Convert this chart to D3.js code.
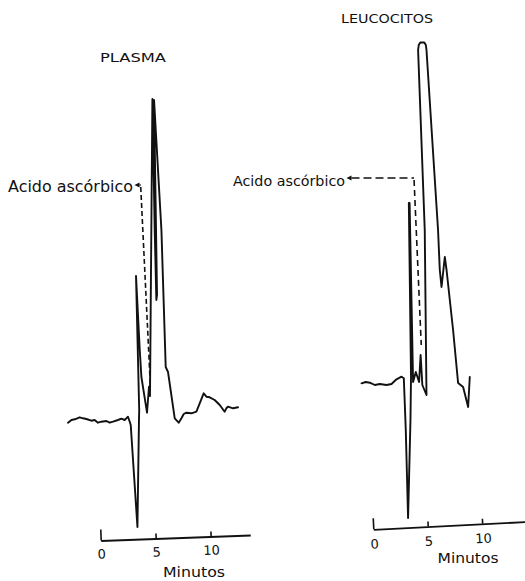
<!DOCTYPE html>
<html>
<head>
<meta charset="utf-8">
<script src="https://cdn.jsdelivr.net/npm/d3@7"></script>
<style>
  body { margin: 0; background: #fff; }
  text { font-family: "DejaVu Sans", sans-serif; fill: #111; }
</style>
</head>
<body>
<div class="chart-container"></div>
<script>
// chromatogram traces, time in minutes, detector signal in arbitrary units
var plasmaTime = [-2.97, -2.66, -2.36, -1.91, -1.61, -1.30, -0.85, -0.55, -0.25, 0.06,
  0.52, 0.82, 1.12, 1.57, 1.88, 2.18, 2.48, 2.64, 2.73, 3.34,
  3.48, 3.50, 3.21, 3.55, 3.70, 4.21, 4.39, 4.48, 4.70, 4.91,
  5.06, 5.12, 4.85, 5.52, 5.91, 6.12, 6.73, 7.09, 7.34, 7.55,
  7.79, 8.25, 8.70, 9.00, 9.36, 9.61, 9.91, 10.36, 10.82, 11.27,
  11.42, 11.57, 12.03, 12.48];
var plasmaSignal = [-0.17, 0.10, 0.17, 0.37, 0.27, 0.20, 0.03, 0.10, -0.17, -0.07,
  0.00, -0.17, -0.07, 0.10, 0.23, 0.10, 0.43, -0.07, -0.40, -10.6,
  0.10, 1.10, 14.5, 7.1, 4.4, 0.83, 3.43, 2.5, 32.2, 19.1,
  12.1, 12.6, 32.1, 19.1, 5.4, 4.9, 0.27, -0.17, 0.27, 0.70,
  0.83, 0.77, 0.93, 1.77, 2.77, 2.43, 2.37, 2.10, 1.60, 0.93,
  1.27, 1.43, 1.27, 1.37];

var leucoTime = [-1.08, -0.70, -0.32, 0.14, 0.60, 1.21, 1.67, 2.13, 2.59, 2.80,
  2.98, 3.19, 3.41, 3.46, 3.26, 3.33, 3.65, 3.90, 4.20, 4.34,
  4.50, 4.88, 4.72, 4.11, 4.17, 4.31, 4.68, 4.82, 4.88, 5.94,
  6.10, 6.26, 6.56, 6.72, 7.32, 7.78, 8.24, 8.70, 8.85];
var leucoSignal = [-0.03, 0.10, 0.03, -0.20, -0.10, -0.20, -0.10, 0.37, 0.63, 0.47,
  -4.7, -13.5, -3.7, 0.63, 18.0, 18.0, 0.10, 1.10, 0.10, 2.8,
  -0.20, -1.2, 15.3, 33.3, 33.8, 34.05, 34.05, 33.8, 33.3, 15.3,
  11.3, 9.6, 12.6, 11.3, 5.3, 0.0, -0.4, -2.4, 0.6];

// ascorbic acid marker: corner [time, signal] and lower end [time, signal]
var plasmaMarker = [[3.64, 23.6], [4.52, 3.4]];
var leucoMarker = [[3.74, 20.5], [4.40, 3.8]];

var tickValues = [0, 5, 10];
var titles = ['PLASMA', 'LEUCOCITOS'];
var peakLabel = 'Acido ascórbico';
var axisLabel = 'Minutos';

var width = 525, height = 581;

var panels = [
  { title: titles[0], time: plasmaTime, signal: plasmaSignal, marker: plasmaMarker,
    x0: 100.7, k: 11.0, base: 421, axisY: 540.5, axisEnd: 13.6, angle: -2.1, pad: 9,
    titleX: 133, titleY: 62, titleLen: 66,
    labelEnd: 133, labelY: 191.5, labelLen: 125, labelSize: 15, hDash: '20,0', vDash: '5,3',
    minX: 194, minY: 577, minLen: 62 },
  { title: titles[1], time: leucoTime, signal: leucoSignal, marker: leucoMarker,
    x0: 373.3, k: 10.9, base: 383, axisY: 529.3, axisEnd: 14, angle: -2.9, pad: 10,
    titleX: 387, titleY: 23, titleLen: 92,
    labelEnd: 345, labelY: 185.5, labelLen: 112, labelSize: 14, hDash: '8,4', vDash: '6,4',
    minX: 468, minY: 563, minLen: 61 }
];

var svg = d3.select('.chart-container').append('svg')
    .attr('width', width)
    .attr('height', height);

panels.forEach(function (p) {
  var x = d3.scaleLinear().domain([0, 10]).range([p.x0, p.x0 + 10 * p.k]);
  var y = d3.scaleLinear().domain([0, 10]).range([p.base, p.base - 100]);

  var points = d3.zip(p.time, p.signal).map(function (d) { return { t: d[0], v: d[1] }; });

  var line = d3.line()
      .x(function (d) { return x(d.t); })
      .y(function (d) { return y(d.v); });

  svg.append('path')
      .datum(points)
      .attr('d', line)
      .attr('fill', 'none')
      .attr('stroke', '#111')
      .attr('stroke-width', 1.9)
      .attr('stroke-linejoin', 'round')
      .attr('stroke-linecap', 'round');

  // axis, slightly tilted like the scanned original
  var ax = d3.scaleLinear().domain([0, p.axisEnd]).range([0, p.k * p.axisEnd]);
  var axisG = svg.append('g')
      .attr('transform', 'translate(' + p.x0 + ',' + p.axisY + ') rotate(' + p.angle + ')')
      .call(d3.axisBottom(ax).tickValues(tickValues).tickSizeInner(-5).tickSizeOuter(0).tickPadding(p.pad));
  axisG.attr('font-family', null).attr('font-size', null);
  axisG.select('.domain').attr('stroke', '#111').attr('stroke-width', 1.8);
  axisG.selectAll('.tick line').attr('stroke', '#111').attr('stroke-width', 1.6)
      .filter(function (d) { return d === 0; }).attr('y2', -11);
  axisG.selectAll('.tick text').style('font-size', '13px').attr('fill', '#111');

  svg.append('text')
      .attr('x', p.minX - p.minLen / 2)
      .attr('y', p.minY)
      .attr('textLength', p.minLen)
      .attr('lengthAdjust', 'spacingAndGlyphs')
      .style('font-size', '14px')
      .text(axisLabel);

  svg.append('text')
      .attr('x', p.titleX - p.titleLen / 2)
      .attr('y', p.titleY)
      .attr('textLength', p.titleLen)
      .attr('lengthAdjust', 'spacingAndGlyphs')
      .style('font-size', '13px')
      .text(p.title);

  // "Acido ascórbico" label with arrow and dashed leader to the peak
  svg.append('text')
      .attr('x', p.labelEnd - p.labelLen)
      .attr('y', p.labelY)
      .attr('textLength', p.labelLen)
      .attr('lengthAdjust', 'spacingAndGlyphs')
      .style('font-size', p.labelSize + 'px')
      .text(peakLabel);

  var cx = x(p.marker[0][0]), cy = y(p.marker[0][1]);
  var ex = x(p.marker[1][0]), ey = y(p.marker[1][1]);
  var ax0 = p.labelEnd + 1.5;

  svg.append('path')
      .attr('d', 'M' + ax0 + ',' + cy + 'l5,-2.5v5z')
      .attr('fill', '#111');

  svg.append('line')
      .attr('x1', ax0 + 5).attr('y1', cy)
      .attr('x2', cx).attr('y2', cy)
      .attr('stroke', '#111').attr('stroke-width', 1.4)
      .attr('stroke-dasharray', p.hDash);

  svg.append('line')
      .attr('x1', cx).attr('y1', cy + 2)
      .attr('x2', ex).attr('y2', ey)
      .attr('stroke', '#111').attr('stroke-width', 1.6)
      .attr('stroke-dasharray', p.vDash);
});
</script>
</body>
</html>
